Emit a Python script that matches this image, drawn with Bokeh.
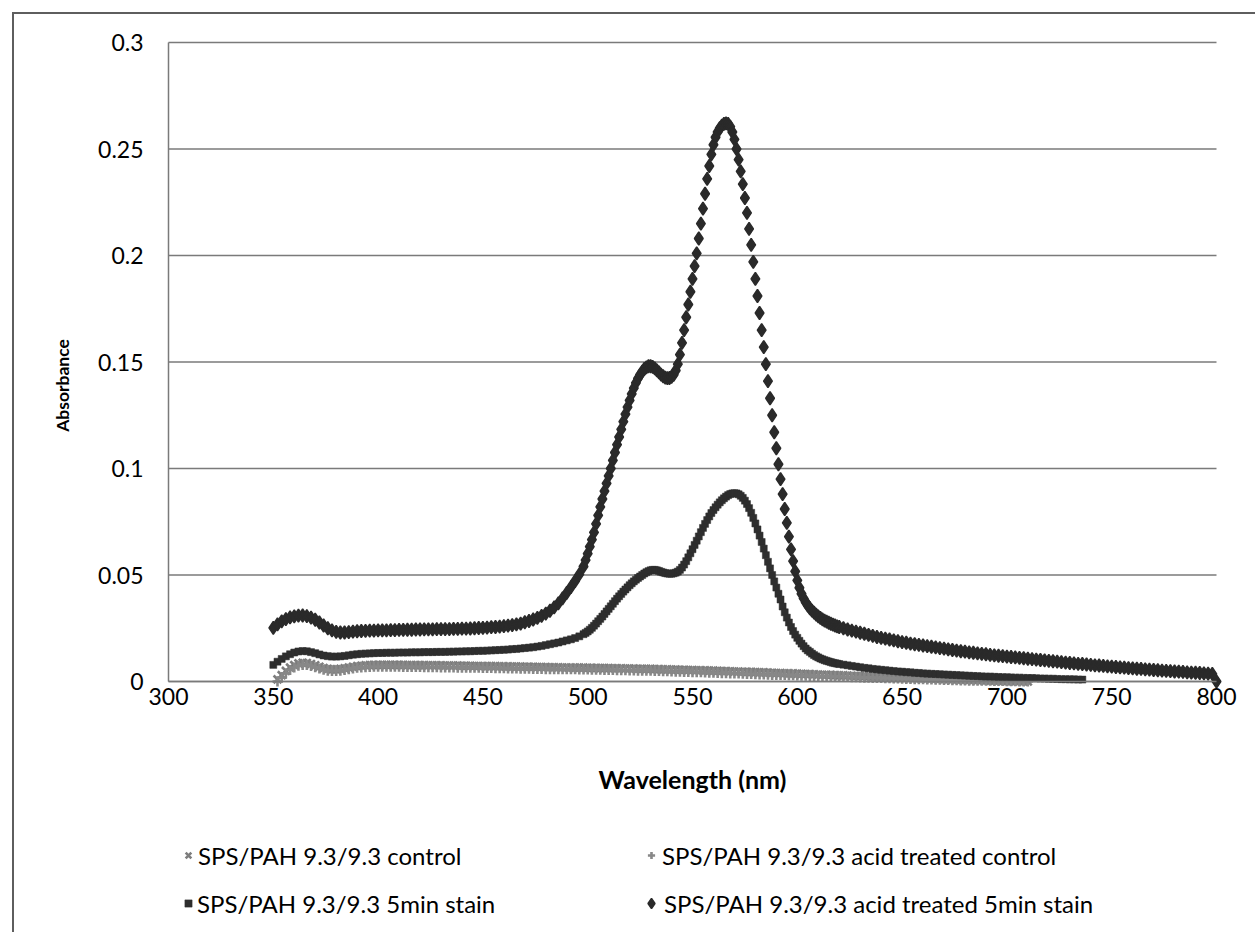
from bokeh.plotting import figure
from bokeh.models import Range1d, FixedTicker, Legend, LegendItem, Label
from bokeh.embed import file_html
from bokeh.resources import INLINE

# ---------------- data ----------------
# wavelengths (nm) sampling grids
wl_d = list(range(350, 499, 2)) + list(range(499, 621, 1)) + list(range(622, 801, 2))
wl_s = list(range(350, 499, 2)) + list(range(499, 621, 1)) + list(range(622, 737, 2))
wl_c = list(range(352, 711, 2))
wl_a = list(range(352, 711, 2))

# SPS/PAH 9.3/9.3 acid treated 5min stain (diamonds)
abs_acid_stain = [
    .0252, .0268, .0282, .0293, .0301, .0306, .0309, .0310, .0307, .0300,
    .0290, .0277, .0263, .0250, .0240, .0233, .0230, .0230, .0232, .0234,
    .0236, .0237, .0238, .0239, .0239, .0240, .0240, .0240, .0241, .0241,
    .0242, .0242, .0243, .0243, .0244, .0244, .0245, .0245, .0245, .0246,
    .0246, .0246, .0246, .0247, .0247, .0248, .0248, .0249, .0250, .0251,
    .0252, .0253, .0255, .0256, .0258, .0260, .0262, .0265, .0268, .0272,
    .0278, .0284, .0291, .0299, .0308, .0319, .0332, .0348, .0367, .0390,
    .0416, .0443, .0472, .0503, .0540,
    .0570, .0600, .0633, .0666, .0700, .0740, .0780, .0820, .0857, .0894,
    .0930, .0965, .1000, .1038, .1075, .1112, .1148, .1184, .1220, .1255,
    .1288, .1320, .1350, .1377, .1402, .1423, .1440, .1455, .1467, .1475,
    .1480, .1480, .1477, .1470, .1461, .1451, .1441, .1433, .1427, .1424,
    .1425, .1430, .1440, .1460, .1490, .1535, .1590, .1650, .1710, .1770,
    .1830, .1890, .1950, .2010, .2080, .2150, .2220, .2290, .2360, .2420,
    .2475, .2520, .2555, .2580, .2598, .2610, .2618, .2620, .2618, .2605,
    .2580, .2545, .2500, .2450, .2395, .2335, .2270, .2200, .2125, .2050,
    .1970, .1890, .1810, .1730, .1650, .1570, .1490, .1410, .1330, .1250,
    .1170, .1095, .1020, .0950, .0880, .0810, .0745, .0680, .0620, .0565,
    .0517, .0475, .0440, .0412, .0390, .0372, .0357, .0344, .0333, .0323,
    .0314, .0306, .0299, .0292, .0286, .0281, .0276, .0271, .0267, .0263,
    .0259, .0256,
    .0250, .0244, .0239, .0234, .0229, .0224, .0219, .0214, .0209, .0205,
    .0201, .0197, .0193, .0189, .0185, .0182, .0178, .0175, .0172, .0169,
    .0166, .0163, .0160, .0157, .0154, .0151, .0148, .0145, .0142, .0140,
    .0137, .0135, .0132, .0130, .0128, .0125, .0123, .0121, .0119, .0117,
    .0115, .0113, .0111, .0109, .0107, .0105, .0103, .0101, .0099, .0097,
    .0095, .0093, .0091, .0089, .0087, .0085, .0083, .0082, .0080, .0078,
    .0076, .0075, .0073, .0071, .0070, .0068, .0066, .0065, .0063, .0062,
    .0060, .0059, .0057, .0056, .0054, .0053, .0051, .0050, .0049, .0047,
    .0046, .0045, .0043, .0042, .0041, .0040, .0038, .0037, .0036, .0000,
]

# SPS/PAH 9.3/9.3 5min stain (squares)
abs_stain = [
    .0078, .0093, .0106, .0118, .0128, .0136, .0141, .0143, .0142, .0138,
    .0133, .0127, .0122, .0119, .0117, .0117, .0118, .0120, .0123, .0126,
    .0128, .0130, .0131, .0132, .0133, .0134, .0134, .0135, .0135, .0135,
    .0136, .0136, .0136, .0137, .0137, .0137, .0138, .0138, .0138, .0139,
    .0139, .0139, .0140, .0140, .0141, .0141, .0142, .0142, .0143, .0144,
    .0144, .0145, .0146, .0147, .0148, .0149, .0150, .0152, .0153, .0155,
    .0157, .0159, .0161, .0164, .0167, .0171, .0175, .0179, .0183, .0188,
    .0193, .0198, .0204, .0212, .0222,
    .0228, .0235, .0243, .0252, .0262, .0272, .0283, .0294, .0305, .0317,
    .0329, .0341, .0353, .0365, .0377, .0389, .0400, .0411, .0422, .0432,
    .0442, .0452, .0461, .0470, .0478, .0486, .0493, .0500, .0507, .0513,
    .0518, .0522, .0524, .0524, .0522, .0519, .0515, .0512, .0509, .0507,
    .0506, .0506, .0508, .0511, .0516, .0524, .0535, .0549, .0565, .0583,
    .0602, .0621, .0641, .0661, .0681, .0701, .0721, .0740, .0758, .0775,
    .0791, .0805, .0818, .0830, .0841, .0851, .0860, .0868, .0875, .0880,
    .0883, .0884, .0883, .0879, .0872, .0862, .0849, .0833, .0814, .0792,
    .0768, .0742, .0714, .0685, .0655, .0624, .0593, .0562, .0531, .0500,
    .0470, .0441, .0412, .0385, .0352, .0325, .0300, .0277, .0256, .0237,
    .0220, .0205, .0191, .0178, .0166, .0155, .0146, .0139, .0131, .0124,
    .0118, .0113, .0108, .0104, .0100, .0097, .0094, .0091, .0088, .0086,
    .0084, .0082,
    .0079, .0076, .0073, .0070, .0067, .0064, .0062, .0059, .0057, .0055,
    .0053, .0051, .0049, .0047, .0046, .0044, .0043, .0041, .0040, .0038,
    .0037, .0036, .0035, .0034, .0033, .0032, .0031, .0030, .0029, .0028,
    .0027, .0026, .0025, .0024, .0023, .0023, .0022, .0021, .0020, .0020,
    .0019, .0018, .0018, .0017, .0016, .0016, .0015, .0014, .0014, .0013,
    .0013, .0012, .0011, .0011, .0010, .0010, .0009, .0009,
]

# SPS/PAH 9.3/9.3 control (x markers)
abs_control = [
    .0010, .0030, .0050, .0065, .0077, .0085, .0088, .0087, .0082, .0076,
    .0069, .0063, .0059, .0057, .0057, .0059, .0062, .0066, .0069, .0072,
    .0074, .0076, .0077, .0078, .0078,
    .0078, .0078, .0078, .0078, .0078, .0078, .0077, .0077, .0077, .0077,
    .0077, .0076, .0076, .0076, .0076, .0075, .0075, .0075, .0075, .0074,
    .0074, .0074, .0073, .0073, .0073, .0072, .0072, .0072, .0071, .0071,
    .0071, .0070, .0070, .0070, .0069, .0069, .0069, .0068, .0068, .0068,
    .0067, .0067, .0067, .0066, .0066, .0066, .0065, .0065, .0065, .0064,
    .0064, .0064, .0063, .0063, .0063, .0062, .0062, .0062, .0061, .0061,
    .0061, .0060, .0060, .0059, .0059, .0058, .0058, .0057, .0057, .0056,
    .0056, .0055, .0055, .0054, .0054, .0053, .0053, .0052, .0051, .0051,
    .0050, .0049, .0049, .0048, .0047, .0047, .0046, .0045, .0045, .0044,
    .0043, .0043, .0042, .0041, .0040, .0040, .0039, .0038, .0038, .0037,
    .0036, .0035, .0035, .0034, .0033, .0032, .0032, .0031, .0030, .0029,
    .0029, .0028, .0027, .0026, .0026, .0025, .0024, .0023, .0023, .0022,
    .0021, .0020, .0020, .0019, .0018, .0018, .0017, .0016, .0015, .0015,
    .0014, .0013, .0013, .0012, .0011, .0011, .0010, .0009, .0009, .0008,
    .0007, .0007, .0006, .0006, .0005, .0004, .0004, .0003, .0003, .0002,
    .0002, .0001, .0001, .0000, .0000,
]

# SPS/PAH 9.3/9.3 acid treated control (+ markers)
abs_acid_control = [
    .0000, .0018, .0038, .0054, .0066, .0074, .0078, .0077, .0073, .0067,
    .0061, .0055, .0051, .0049, .0049, .0051, .0054, .0058, .0061, .0064,
    .0066, .0067, .0068, .0069, .0069,
    .0069, .0069, .0069, .0069, .0069, .0068, .0068, .0068, .0068, .0068,
    .0067, .0067, .0067, .0067, .0066, .0066, .0066, .0066, .0065, .0065,
    .0065, .0064, .0064, .0064, .0063, .0063, .0063, .0062, .0062, .0062,
    .0061, .0061, .0061, .0060, .0060, .0060, .0059, .0059, .0059, .0058,
    .0058, .0058, .0058, .0057, .0057, .0057, .0057, .0056, .0056, .0056,
    .0055, .0055, .0055, .0054, .0054, .0054, .0053, .0053, .0053, .0052,
    .0052, .0051, .0051, .0050, .0050, .0049, .0049, .0048, .0048, .0047,
    .0046, .0046, .0045, .0045, .0044, .0043, .0043, .0042, .0041, .0041,
    .0040, .0039, .0039, .0038, .0037, .0037, .0036, .0035, .0035, .0034,
    .0033, .0033, .0032, .0031, .0031, .0030, .0030, .0029, .0029, .0028,
    .0027, .0027, .0026, .0026, .0025, .0024, .0024, .0023, .0023, .0022,
    .0021, .0021, .0020, .0020, .0019, .0018, .0018, .0017, .0017, .0016,
    .0015, .0015, .0014, .0014, .0013, .0012, .0012, .0011, .0011, .0010,
    .0009, .0009, .0008, .0008, .0007, .0007, .0006, .0006, .0005, .0005,
    .0004, .0004, .0004, .0003, .0003, .0003, .0002, .0002, .0002, .0001,
    .0001, .0001, .0000, .0000, .0000,
]

series_names = [
    "SPS/PAH 9.3/9.3 control",
    "SPS/PAH 9.3/9.3 acid treated control",
    "SPS/PAH 9.3/9.3 5min stain",
    "SPS/PAH 9.3/9.3 acid treated 5min stain",
]

x_ticks = [300, 350, 400, 450, 500, 550, 600, 650, 700, 750, 800]
y_ticks = [0, 0.05, 0.1, 0.15, 0.2, 0.25, 0.3]
y_tick_labels = ["0", "0.05", "0.1", "0.15", "0.2", "0.25", "0.3"]

# ---------------- layout constants (pixels) ----------------
W, H = 1243, 920
MB = 4                          # all borders; the frame covers almost the whole figure
ORIGIN = 14                     # page px of the figure's top-left (margin 12 + border 2)
FRAME_L, FRAME_R = ORIGIN + MB, ORIGIN + W - MB
FRAME_T, FRAME_B = ORIGIN + MB, ORIGIN + H - MB
AREA_L, AREA_R = 168, 1216      # page px where 300 nm and 800 nm fall
AREA_T, AREA_B = 42, 681        # page px where 0.3 and 0 fall
px_x = (AREA_R - AREA_L) / (x_ticks[-1] - x_ticks[0])
px_y = (AREA_B - AREA_T) / (y_ticks[-1] - y_ticks[0])
x_start = x_ticks[0] - (AREA_L - FRAME_L) / px_x
x_end = x_ticks[-1] + (FRAME_R - AREA_R) / px_x
y_start = y_ticks[0] - (FRAME_B - AREA_B) / px_y
y_end = y_ticks[-1] + (AREA_T - FRAME_T) / px_y

FONT = "Lato"
GRID = "#7a7a7a"
p = figure(width=W, height=H, output_backend="svg", toolbar_location=None,
           x_range=Range1d(x_start, x_end), y_range=Range1d(y_start, y_end),
           min_border_left=MB, min_border_right=MB, min_border_top=MB,
           min_border_bottom=MB)
p.styles = {"margin-left": "12px", "margin-top": "12px",
            "border-left": "2px solid #5e5e5e", "border-top": "2px solid #5e5e5e"}
p.outline_line_color = None
p.background_fill_color = "white"
p.border_fill_color = "white"

# horizontal gridlines spanning only the 300-800 nm plot area
p.xgrid.grid_line_color = None
p.ygrid.grid_line_color = None
p.segment(x0=[x_ticks[0]] * len(y_ticks), y0=y_ticks,
          x1=[x_ticks[-1]] * len(y_ticks), y1=y_ticks,
          line_color=GRID, line_width=1.5)

p.xaxis.ticker = FixedTicker(ticks=x_ticks)
p.yaxis.ticker = FixedTicker(ticks=y_ticks)
p.yaxis.major_label_overrides = {v: s for v, s in zip(y_ticks, y_tick_labels)}

for ax in (p.xaxis[0], p.yaxis[0]):
    ax.axis_line_color = GRID
    ax.axis_line_width = 1.5
    ax.major_tick_line_color = None
    ax.minor_tick_line_color = None
    ax.major_tick_out = 0
    ax.major_tick_in = 0
    ax.minor_tick_out = 0
    ax.major_label_text_font = FONT
    ax.major_label_text_font_size = "23px"
    ax.major_label_text_color = "black"
    ax.axis_label_text_font = FONT
    ax.axis_label_text_font_style = "bold"
    ax.axis_label_text_color = "black"

p.xaxis.fixed_location = y_ticks[0]
p.xaxis.bounds = (x_ticks[0], x_ticks[-1])
p.xaxis.axis_label = "Wavelength (nm)"
p.xaxis.axis_label_text_font_size = "25px"
p.xaxis.major_label_standoff = 6
p.xaxis.axis_label_standoff = 56

p.yaxis.fixed_location = x_ticks[0]
p.yaxis.bounds = (y_ticks[0], y_ticks[-1])
p.yaxis.major_label_standoff = 25

# y axis title, centred where the reference has it
ytitle_px = (62, 385)
p.add_layout(Label(x=x_ticks[0] - (AREA_L - ytitle_px[0]) / px_x,
                   y=y_ticks[0] + (AREA_B - ytitle_px[1]) / px_y,
                   text="Absorbance", angle=90, angle_units="deg",
                   text_align="center", text_baseline="middle",
                   text_font=FONT, text_font_style="bold", text_font_size="17.5px",
                   text_color="black"))

r_ctrl = p.scatter(wl_c, abs_control, marker="x", size=11, line_color="#7d7d7d", line_width=2.6)
r_actrl = p.scatter(wl_a, abs_acid_control, marker="cross", size=10, line_color="#888888", line_width=2.6)
r_stain = p.scatter(wl_s, abs_stain, marker="square", size=7, fill_color="#2e2e2e", line_color="#2e2e2e", line_width=0.5)
r_astain = p.scatter(wl_d, abs_acid_stain, marker="diamond", size=13, fill_color="#2a2a2a", line_color="#2a2a2a", line_width=1.5)

# legend entries, one small legend per series, placed in the lower part of the frame
def add_leg(renderer, label, glyph_left_px, center_px, gw, standoff):
    gh = 30
    leg = Legend(items=[LegendItem(label=label, renderers=[renderer])],
                 location=(glyph_left_px - FRAME_L, FRAME_B - center_px - gh // 2),
                 orientation="horizontal",
                 glyph_width=gw, glyph_height=gh, label_standoff=standoff,
                 label_text_font=FONT, label_text_font_size="24px", label_text_color="black",
                 label_height=gh, padding=0, margin=0, spacing=0,
                 border_line_color=None, background_fill_alpha=0)
    p.add_layout(leg, "center")

add_leg(r_ctrl, series_names[0], 178, 855, 20, 0)
add_leg(r_actrl, series_names[1], 642, 855, 18, 2)
add_leg(r_stain, series_names[2], 179, 903, 18, 0)
add_leg(r_astain, series_names[3], 638, 903, 26, 0)

open("out.html", "w").write(file_html(p, INLINE))
